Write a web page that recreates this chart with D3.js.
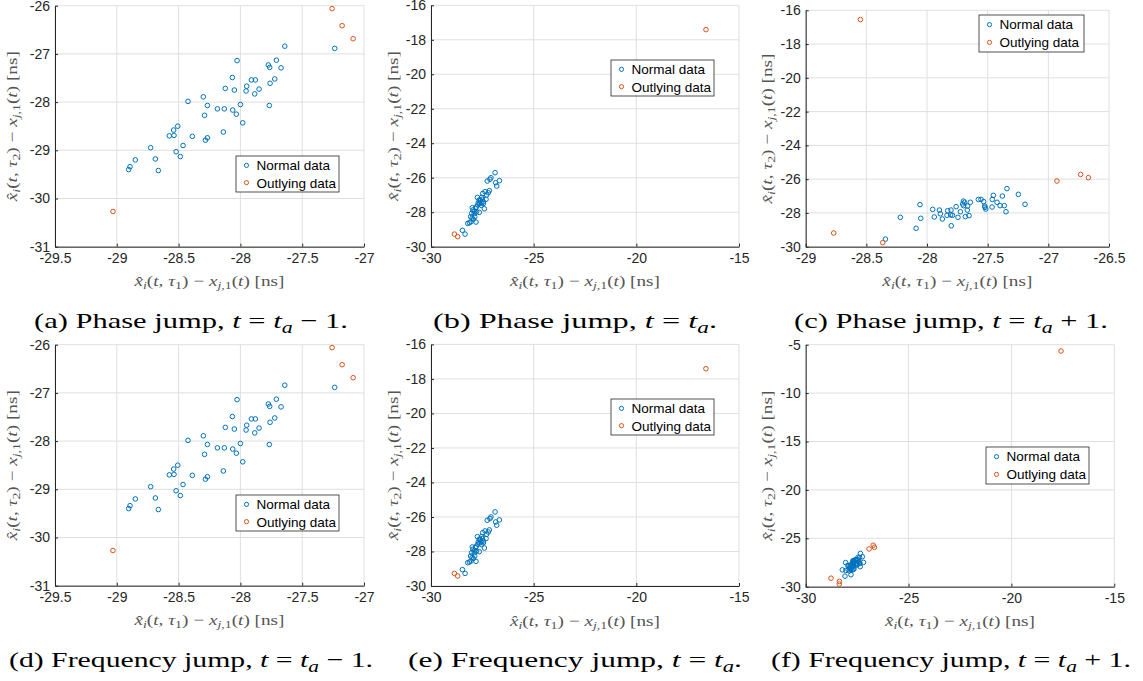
<!DOCTYPE html>
<html><head><meta charset="utf-8">
<script src="https://cdn.jsdelivr.net/npm/d3@7/dist/d3.min.js"></script>
<style>
html,body{margin:0;padding:0;background:#fff;}
svg{display:block;}
.serif{font-family:"Liberation Serif","DejaVu Serif","Times New Roman",serif;}
.sans{font-family:"Liberation Sans",Arial,Helvetica,sans-serif;}
</style></head>
<body>
<svg id="chart" width="1143" height="681"></svg>
<script>
// ---------- DATA ----------
// (a),(d): t = t_a - 1
const beforeNormalX = [-28.904,-28.893,-28.85,-28.726,-28.688,-28.664,-28.575,-28.54,-28.537,-28.507,-28.52,-28.486,-28.464,-28.424,-28.389,-28.30,-28.29,-28.283,-28.267,-28.267,-28.186,-28.138,-28.13,-28.122,-28.065,-28.062,-28.049,-28.033,-28.027,-28.0,-27.981,-27.954,-27.949,-27.911,-27.879,-27.884,-27.849,-27.774,-27.763,-27.76,-27.766,-27.722,-27.709,-27.671,-27.641,-27.237];
const beforeNormalY = [-29.40,-29.34,-29.20,-28.946,-29.18,-29.42,-28.70,-28.58,-28.69,-28.50,-29.03,-29.13,-28.90,-27.985,-28.71,-27.89,-28.275,-28.79,-28.74,-28.07,-28.14,-28.62,-28.14,-27.715,-27.49,-28.165,-27.75,-28.25,-27.14,-28.05,-28.43,-27.77,-27.67,-27.54,-27.54,-27.83,-27.73,-27.23,-27.28,-27.61,-28.07,-27.52,-27.13,-27.29,-26.84,-26.885];
const beforeOutX = [-29.031,-27.258,-27.177,-27.088];
const beforeOutY = [-30.27,-26.06,-26.415,-26.685];

// (b),(e): t = t_a
const atNormalX = [-28.47,-28.34,-28.21,-28.13,-28.05,-27.81,-28.07,-28.02,-27.96,-27.99,-27.83,-27.78,-27.65,-27.89,-27.87,-27.94,-27.72,-27.40,-27.65,-27.74,-27.53,-27.45,-27.32,-27.29,-27.21,-27.16,-27.26,-27.13,-27.08,-26.85,-26.67,-26.88,-26.80,-27.56,-27.48,-27.37,-27.60,-27.50,-27.70,-27.55,-27.62,-27.45,-27.80,-27.90,-28.00];
const atNormalY = [-29.05,-29.27,-28.65,-28.61,-28.55,-28.57,-28.26,-28.07,-27.87,-27.74,-27.78,-27.97,-28.01,-28.07,-28.26,-28.41,-27.58,-27.80,-27.29,-27.14,-27.14,-27.39,-27.25,-27.00,-26.87,-26.75,-26.19,-26.09,-26.00,-26.29,-26.17,-25.71,-26.48,-27.44,-26.91,-26.81,-27.30,-27.25,-27.45,-27.60,-27.50,-27.50,-27.70,-27.95,-28.35];
const atOutX = [-28.86,-28.70,-16.61];
const atOutY = [-29.27,-29.42,-17.41];

// (c): phase jump, t = t_a + 1
const phaseAfterNormalX = [-28.343,-28.22,-28.09,-28.058,-28.052,-27.953,-27.94,-27.898,-27.89,-27.874,-27.835,-27.83,-27.805,-27.802,-27.80,-27.79,-27.76,-27.745,-27.725,-27.706,-27.70,-27.698,-27.69,-27.684,-27.668,-27.665,-27.654,-27.643,-27.577,-27.555,-27.533,-27.525,-27.522,-27.516,-27.464,-27.462,-27.453,-27.423,-27.398,-27.379,-27.363,-27.349,-27.341,-27.247,-27.192];
const phaseAfterNormalY = [-29.55,-28.26,-28.91,-27.51,-28.32,-27.79,-28.24,-27.83,-28.05,-28.36,-28.14,-27.87,-28.12,-27.83,-28.76,-28.14,-27.63,-28.26,-27.93,-27.47,-27.30,-27.57,-27.37,-28.22,-27.83,-27.59,-28.16,-27.37,-27.20,-27.20,-27.33,-27.59,-27.67,-27.77,-27.65,-27.20,-26.96,-27.37,-27.57,-27.00,-27.57,-27.93,-26.56,-26.90,-27.49];
const phaseAfterOutX = [-28.769,-28.549,-28.365,-26.929,-26.734,-26.67];
const phaseAfterOutY = [-29.19,-16.55,-29.76,-26.11,-25.72,-25.91];

// (f): frequency jump, t = t_a + 1
const freqAfterNormalX = [-28.22,-28.09,-28.058,-28.052,-27.953,-27.94,-27.898,-27.89,-27.874,-27.835,-27.83,-27.805,-27.802,-27.80,-27.79,-27.76,-27.745,-27.725,-27.706,-27.70,-27.698,-27.69,-27.684,-27.668,-27.665,-27.654,-27.643,-27.577,-27.555,-27.533,-27.525,-27.522,-27.516,-27.464,-27.462,-27.453,-27.423,-27.398,-27.379,-27.363,-27.349,-27.341,-27.247,-27.192];
const freqAfterNormalY = [-28.26,-28.91,-27.51,-28.32,-27.79,-28.24,-27.83,-28.05,-28.36,-28.14,-27.87,-28.12,-27.83,-28.76,-28.14,-27.63,-28.26,-27.93,-27.47,-27.30,-27.57,-27.37,-28.22,-27.83,-27.59,-28.16,-27.37,-27.20,-27.20,-27.33,-27.59,-27.67,-27.77,-27.65,-27.20,-26.96,-27.37,-27.57,-27.00,-27.57,-27.93,-26.56,-26.90,-27.49];
const freqAfterOutX = [-28.77,-28.36,-28.37,-26.92,-26.72,-26.66,-17.59];
const freqAfterOutY = [-29.12,-29.45,-29.72,-26.10,-25.72,-25.93,-5.65];

// ticks
const ticksXa = [-29.5,-29,-28.5,-28,-27.5,-27];
const ticksYa = [-31,-30,-29,-28,-27,-26];
const ticksXb = [-30,-25,-20,-15];
const ticksYb = [-30,-28,-26,-24,-22,-20,-18,-16];
const ticksXc = [-29,-28.5,-28,-27.5,-27,-26.5];
const ticksYc = [-30,-28,-26,-24,-22,-20,-18,-16];
const ticksYf = [-30,-25,-20,-15,-10,-5];

const legendLabels = ["Normal data","Outlying data"];
const captionKinds = ["Phase jump","Phase jump","Phase jump","Frequency jump","Frequency jump","Frequency jump"];
const captionLetters = ["a","b","c","d","e","f"];
const captionSuffix = [" \u2212 1.", ".", " + 1.", " \u2212 1.", ".", " + 1."];

// ---------- LAYOUT ----------
const BLUE = "#0072BD", RED = "#D95319";
const svg = d3.select("#chart");

const panels = [
  {L:55,R:364,T:5.7,B:246.7,xd:[-29.5,-27],yd:[-31,-26],xt:ticksXa,yt:ticksYa,nx:beforeNormalX,ny:beforeNormalY,ox:beforeOutX,oy:beforeOutY,leg:[236,156,103,36],ylx:16.5,cap:{cx:191,w:314,y:328}},
  {L:431,R:739,T:5.3,B:246.7,xd:[-30,-15],yd:[-30,-16],xt:ticksXb,yt:ticksYb,nx:atNormalX,ny:atNormalY,ox:atOutX,oy:atOutY,leg:[611,60,103,36],ylx:398,cap:{cx:575,w:284,y:328}},
  {L:805.7,R:1109,T:10.3,B:246.7,xd:[-29,-26.5],yd:[-30,-16],xt:ticksXc,yt:ticksYc,nx:phaseAfterNormalX,ny:phaseAfterNormalY,ox:phaseAfterOutX,oy:phaseAfterOutY,leg:[979,15,105,37],ylx:772,cap:{cx:951,w:314,y:328}},
  {L:55,R:364,T:344.7,B:585.7,xd:[-29.5,-27],yd:[-31,-26],xt:ticksXa,yt:ticksYa,nx:beforeNormalX,ny:beforeNormalY,ox:beforeOutX,oy:beforeOutY,leg:[236,495,103,36],ylx:16.5,cap:{cx:191,w:364,y:667}},
  {L:431,R:739,T:344.4,B:586,xd:[-30,-15],yd:[-30,-16],xt:ticksXb,yt:ticksYb,nx:atNormalX,ny:atNormalY,ox:atOutX,oy:atOutY,leg:[611,399,103,36],ylx:398,cap:{cx:575,w:334,y:667}},
  {L:805.7,R:1114.3,T:344.7,B:586.7,xd:[-30,-15],yd:[-30,-5],xt:ticksXb,yt:ticksYf,nx:freqAfterNormalX,ny:freqAfterNormalY,ox:freqAfterOutX,oy:freqAfterOutY,leg:[986,447,103,37],ylx:772,cap:{cx:951,w:360,y:667}}
];

function mathText(sel, parts, subShift, subScale){
  let shift = 0;
  parts.forEach(p=>{
    const desired = p.sub ? subShift : 0;
    const ts = sel.append("tspan").text(p.t);
    if (desired !== shift) ts.attr("dy", desired - shift);
    shift = desired;
    if (p.it) ts.attr("font-style","italic");
    if (p.sub) ts.attr("font-size", (subScale*100)+"%");
  });
}
function axisLabelParts(n){
  return [{t:"x\u0302",it:true},{t:"i",it:true,sub:true},{t:"("},{t:"t",it:true},{t:", "},{t:"\u03C4",it:true},{t:n,sub:true},
          {t:") \u2212 "},{t:"x",it:true},{t:"j",it:true,sub:true},{t:",1",sub:true},{t:"("},{t:"t",it:true},{t:") [ns]"}];
}

panels.forEach((p,i)=>{
  const x = d3.scaleLinear().domain(p.xd).range([p.L,p.R]);
  const y = d3.scaleLinear().domain(p.yd).range([p.B,p.T]);
  const g = svg.append("g");

  // grid
  g.append("g").selectAll("line").data(p.xt).join("line")
    .attr("x1",d=>x(d)).attr("x2",d=>x(d)).attr("y1",p.T).attr("y2",p.B)
    .attr("stroke","#dfdfdf").attr("stroke-width",1);
  g.append("g").selectAll("line").data(p.yt).join("line")
    .attr("y1",d=>y(d)).attr("y2",d=>y(d)).attr("x1",p.L).attr("x2",p.R)
    .attr("stroke","#dfdfdf").attr("stroke-width",1);

  // axes
  const fmt = d=>String(d);
  const ax = g.append("g").attr("transform",`translate(0,${p.B})`)
    .call(d3.axisBottom(x).tickValues(p.xt).tickFormat(fmt).tickSizeInner(-3).tickSizeOuter(0).tickPadding(6));
  const ay = g.append("g").attr("transform",`translate(${p.L},0)`)
    .call(d3.axisLeft(y).tickValues(p.yt).tickFormat(fmt).tickSizeInner(-3).tickSizeOuter(0).tickPadding(5));
  [ax,ay].forEach(a=>{
    a.attr("font-family",null).attr("font-size",null);
    a.selectAll("path,line").attr("stroke","#262626");
    a.selectAll("text").attr("fill","#262626").attr("class","sans").attr("font-size",14);
  });

  // points
  const normal = p.nx.map((v,k)=>[v,p.ny[k]]);
  const outl = p.ox.map((v,k)=>[v,p.oy[k]]);
  g.append("g").selectAll("circle").data(normal).join("circle")
    .attr("cx",d=>x(d[0])).attr("cy",d=>y(d[1])).attr("r",2.3)
    .attr("fill","none").attr("stroke",BLUE).attr("stroke-width",1);
  g.append("g").selectAll("circle").data(outl).join("circle")
    .attr("cx",d=>x(d[0])).attr("cy",d=>y(d[1])).attr("r",2.3)
    .attr("fill","none").attr("stroke",RED).attr("stroke-width",1);

  // legend
  const [lx,ly,lw,lh] = p.leg;
  const lg = g.append("g");
  lg.append("rect").attr("x",lx).attr("y",ly).attr("width",lw).attr("height",lh)
    .attr("fill","#fff").attr("stroke","#262626").attr("stroke-width",0.8);
  legendLabels.forEach((lab,k)=>{
    const cy = ly + lh*(k===0?0.26:0.74);
    lg.append("circle").attr("cx",lx+10.5).attr("cy",cy).attr("r",2.1)
      .attr("fill","none").attr("stroke",k===0?BLUE:RED).attr("stroke-width",1);
    lg.append("text").attr("x",lx+20.5).attr("y",cy).attr("dy","0.36em")
      .attr("class","sans").attr("font-size",13.5).attr("fill","#000").text(lab);
  });

  // x label
  const xl = g.append("text").attr("x",(p.L+p.R)/2).attr("y",p.B+39.5)
    .attr("text-anchor","middle").attr("class","serif")
    .attr("font-size",15).attr("fill","#555").attr("textLength",150).attr("lengthAdjust","spacingAndGlyphs");
  mathText(xl, axisLabelParts("1"), 3, 0.72);
  // y label
  const yc = (p.T+p.B)/2;
  const yl = g.append("text").attr("transform",`translate(${p.ylx},${yc}) rotate(-90)`)
    .attr("text-anchor","middle").attr("class","serif")
    .attr("font-size",15).attr("fill","#555").attr("textLength",150).attr("lengthAdjust","spacingAndGlyphs");
  mathText(yl, axisLabelParts("2"), 3, 0.72);

  // caption
  const cap = svg.append("text").attr("x",p.cap.cx).attr("y",p.cap.y)
    .attr("text-anchor","middle").attr("class","serif")
    .attr("font-size",22).attr("fill","#000").attr("textLength",p.cap.w).attr("lengthAdjust","spacingAndGlyphs");
  const capParts = [{t:`(${captionLetters[i]}) ${captionKinds[i]}, `},{t:"t",it:true},{t:" = "},{t:"t",it:true},{t:"a",it:true,sub:true}];
  mathText(cap, capParts.concat([{t:captionSuffix[i]}]), 5, 0.72);
});
</script>
</body></html>
